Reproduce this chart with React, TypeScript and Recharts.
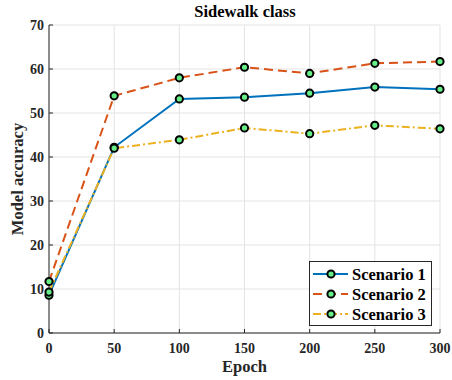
import React from 'react';
import { LineChart, Line, XAxis, YAxis, CartesianGrid, Label } from 'recharts';

const epochs = [0, 50, 100, 150, 200, 250, 300];
const scenario1 = [8.6, 42.2, 53.2, 53.6, 54.5, 55.9, 55.4];
const scenario2 = [11.7, 53.9, 58.0, 60.4, 59.0, 61.3, 61.7];
const scenario3 = [9.3, 42.0, 43.9, 46.6, 45.3, 47.2, 46.4];
const xTicks = [0, 50, 100, 150, 200, 250, 300];
const yTicks = [0, 10, 20, 30, 40, 50, 60, 70];

const seriesInfo = [
    { key: 's1', name: 'Scenario 1', color: '#0072BD', dash: undefined },
    { key: 's2', name: 'Scenario 2', color: '#D95319', dash: '9 5' },
    { key: 's3', name: 'Scenario 3', color: '#EDB120', dash: '8 3 2 3' },
];

const font = '"Liberation Serif", "Times New Roman", serif';
const markerFill = '#66ee88';

const data = epochs.map((e, i) => ({ epoch: e, s1: scenario1[i], s2: scenario2[i], s3: scenario3[i] }));

const XTick = (props: any) => {
    const { x, y, payload } = props;
    return (
        <g>
            <line x1={x} y1={y} x2={x} y2={y - 4} stroke="#262626" strokeWidth={1} />
            <text x={x} y={y + 20} textAnchor="middle" fontFamily={font} fontWeight="bold" fontSize={14} fill="#262626">
                {payload.value}
            </text>
        </g>
    );
};

const YTick = (props: any) => {
    const { x, y, payload } = props;
    return (
        <g>
            <line x1={x} y1={y} x2={x + 4} y2={y} stroke="#262626" strokeWidth={1} />
            <text x={x - 5} y={y + 5} textAnchor="end" fontFamily={font} fontWeight="bold" fontSize={14} fill="#262626">
                {payload.value}
            </text>
        </g>
    );
};

const Dot = (props: any) => {
    const { cx, cy, index } = props;
    if (cx == null || cy == null) return <g key={index} />;
    return <circle key={index} cx={cx} cy={cy} r={3.6} fill={markerFill} stroke="#000" strokeWidth={2} />;
};

// legend drawn as an overlay so it doesn't eat plot space
const LegendBox = () => (
    <svg width={123} height={65} style={{ display: 'block' }}>
        <rect x={0.5} y={0.5} width={122} height={64} fill="#fff" stroke="#262626" strokeWidth={1} />
        {seriesInfo.map((s, i) => {
            const cy = 13 + i * 20;
            return (
                <g key={s.key}>
                    <line x1={4} y1={cy} x2={39} y2={cy} stroke={s.color} strokeWidth={2} strokeDasharray={s.dash} />
                    <circle cx={22} cy={cy} r={3.6} fill={markerFill} stroke="#000" strokeWidth={2} />
                    <text x={43} y={cy + 6} fontFamily={font} fontWeight="bold" fontSize={16.5} fill="#000">
                        {s.name}
                    </text>
                </g>
            );
        })}
    </svg>
);

const App: React.FC = () => {
    return (
        <div style={{ position: 'absolute', left: 0, top: 0, width: 452, height: 380, background: '#fff' }}>
            <div
                style={{
                    position: 'absolute', left: 0, top: 0, width: 452, textAlign: 'center',
                    fontFamily: font, fontWeight: 'bold', fontSize: 16.5, lineHeight: '24px', paddingLeft: 38,
                    boxSizing: 'border-box',
                }}
            >
                Sidewalk class
            </div>
            <LineChart width={452} height={380} data={data} margin={{ top: 25, right: 12, left: 0, bottom: 0 }}>
                <CartesianGrid stroke="#e3e3e3" strokeWidth={1} />
                <XAxis
                    dataKey="epoch"
                    type="number"
                    domain={[0, 300]}
                    ticks={xTicks}
                    interval={0}
                    height={47}
                    tickSize={0}
                    tickMargin={0}
                    tickLine={false}
                    axisLine={{ stroke: '#262626', strokeWidth: 1 }}
                    tick={<XTick />}
                >
                    <Label value="Epoch" position="insideBottom" offset={8}
                        style={{ fontFamily: font, fontWeight: 'bold', fontSize: 16.5, fill: '#262626' }} />
                </XAxis>
                <YAxis
                    type="number"
                    domain={[0, 70]}
                    ticks={yTicks}
                    interval={0}
                    width={49}
                    tickSize={0}
                    tickMargin={0}
                    tickLine={false}
                    axisLine={{ stroke: '#262626', strokeWidth: 1 }}
                    tick={<YTick />}
                >
                    <Label value="Model accuracy" angle={-90} position="insideLeft" offset={17}
                        style={{ textAnchor: 'middle', fontFamily: font, fontWeight: 'bold', fontSize: 16.5, fill: '#262626' }} />
                </YAxis>
                {seriesInfo.map((s) => (
                    <Line
                        key={s.key}
                        type="linear"
                        dataKey={s.key}
                        name={s.name}
                        stroke={s.color}
                        strokeWidth={2}
                        strokeDasharray={s.dash}
                        dot={Dot}
                        activeDot={false}
                        isAnimationActive={false}
                    />
                ))}
            </LineChart>
            <div style={{ position: 'absolute', left: 309, top: 261 }}>
                <LegendBox />
            </div>
        </div>
    );
};

export default App;
